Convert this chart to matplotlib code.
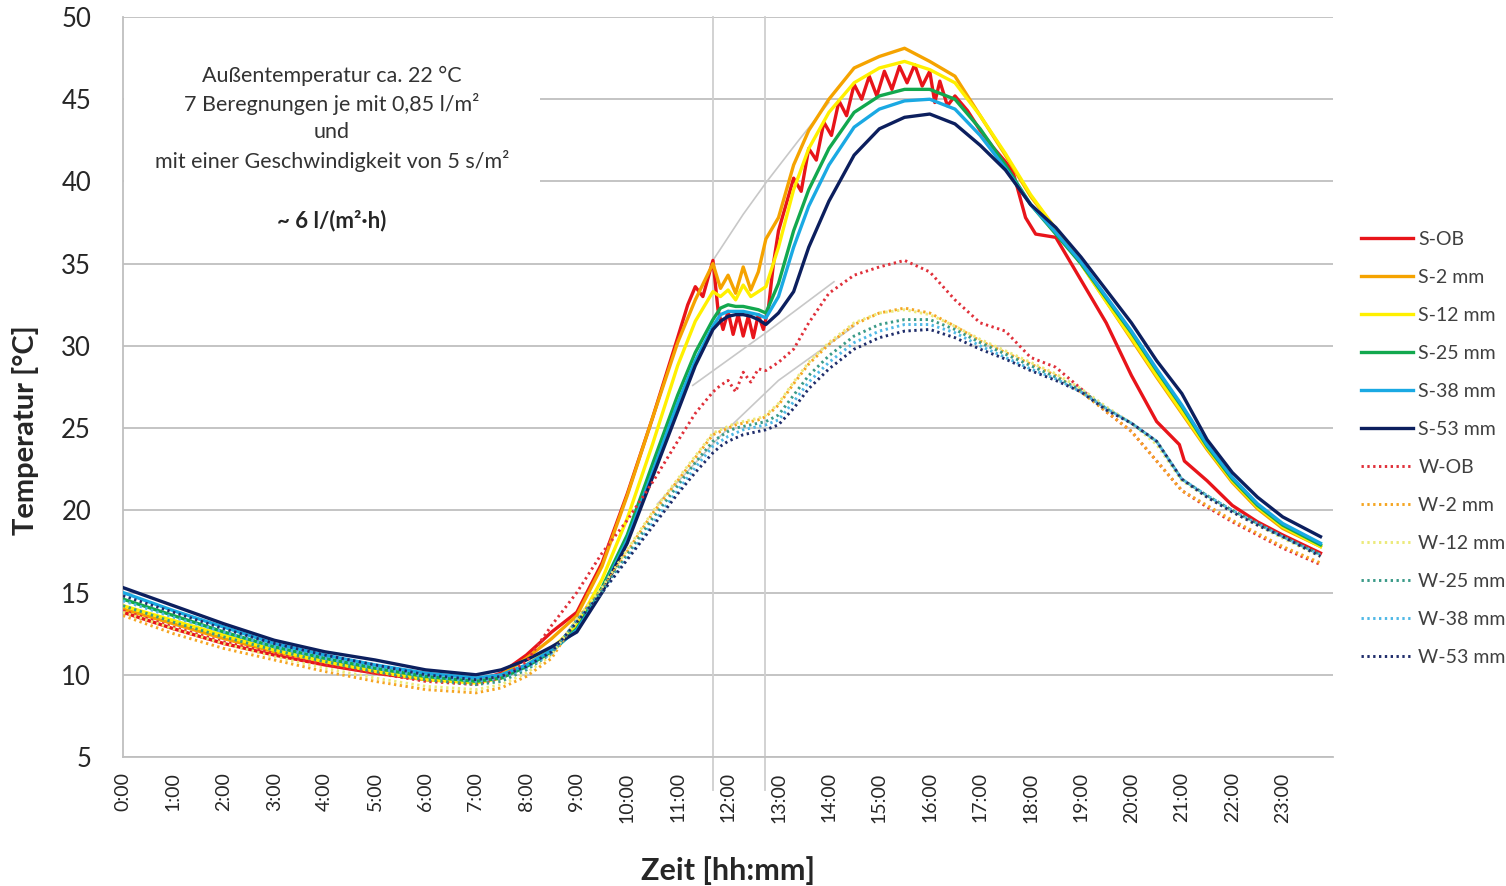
import matplotlib
matplotlib.use("Agg")
import matplotlib.pyplot as plt
from matplotlib.patches import Rectangle

plt.rcParams['font.family'] = ['Lato', 'DejaVu Sans']

# shared time axis (hours) for most series
t = [0, 1, 2, 3, 4, 5, 6, 7, 7.5, 8, 8.5,
     9, 9.5, 10, 10.5, 11, 11.35, 11.7,
     11.85, 12.0, 12.15, 12.3, 12.45, 12.6, 12.75,
     13.0, 13.3, 13.6, 14.0, 14.5, 15.0, 15.5, 16.0, 16.5, 17.0, 17.5, 18.0, 18.5,
     19.0, 19.5, 20.0, 20.5, 21.0, 21.5, 22.0, 22.5, 23.0, 23.75]

s2 = [14.0, 13.1, 12.2, 11.4, 10.8, 10.3, 9.8, 9.6, 10.0, 11.0, 12.2,
      13.6, 16.6, 20.9, 25.6, 30.2, 32.8, 35.0,
      33.5, 34.3, 33.2, 34.8, 33.4, 34.5, 36.5,
      37.8, 41.0, 43.1, 45.0, 46.9, 47.6, 48.1, 47.3, 46.4, 44.0, 41.6, 39.1, 37.1,
      35.0, 32.7, 30.4, 28.1, 25.9, 23.7, 21.7, 20.1, 18.9, 17.8]
s12 = [14.2, 13.3, 12.4, 11.5, 10.8, 10.2, 9.7, 9.5, 9.8, 10.6, 11.6,
       13.0, 15.8, 19.5, 24.0, 28.8, 31.5, 33.3,
       33.0, 33.4, 32.8, 33.7, 33.0, 33.3, 33.6,
       36.0, 39.5, 42.0, 44.2, 46.0, 46.9, 47.3, 46.8, 46.0, 44.0, 41.7, 39.2, 37.1,
       35.0, 32.7, 30.5, 28.2, 26.0, 23.8, 21.8, 20.2, 19.0, 17.8]
s25 = [14.6, 13.6, 12.6, 11.7, 11.0, 10.4, 9.9, 9.6, 9.8, 10.5, 11.4,
       12.8, 15.3, 18.5, 22.8, 27.0, 29.6, 31.6,
       32.3, 32.5, 32.4, 32.4, 32.3, 32.2, 32.0,
       33.8, 37.0, 39.5, 42.0, 44.2, 45.2, 45.6, 45.6, 45.0, 43.2, 41.0, 38.6, 36.8,
       35.0, 32.9, 30.8, 28.5, 26.3, 23.9, 21.9, 20.3, 19.1, 17.9]
s38 = [15.0, 13.9, 12.9, 11.9, 11.2, 10.6, 10.1, 9.8, 10.0, 10.6, 11.5,
       12.7, 15.1, 18.2, 22.3, 26.5, 29.1, 31.2,
       31.9, 32.1, 32.1, 32.1, 32.0, 31.9, 31.7,
       33.0, 36.0, 38.5, 41.0, 43.3, 44.4, 44.9, 45.0, 44.4, 42.8, 40.8, 38.6, 36.9,
       35.1, 33.0, 30.9, 28.6, 26.4, 24.0, 22.0, 20.4, 19.2, 18.0]
s53 = [15.3, 14.2, 13.1, 12.1, 11.4, 10.9, 10.3, 10.0, 10.3, 10.9, 11.7,
       12.6, 15.0, 18.0, 22.0, 26.0, 28.8, 31.0,
       31.5, 31.8, 31.9, 31.9, 31.8, 31.6, 31.3,
       32.0, 33.3, 36.0, 38.8, 41.6, 43.2, 43.9, 44.1, 43.5, 42.2, 40.7, 38.6, 37.2,
       35.4, 33.4, 31.4, 29.1, 27.1, 24.3, 22.3, 20.8, 19.6, 18.4]

wob = [13.9, 12.9, 12.0, 11.3, 10.6, 10.1, 9.6, 9.4, 9.8, 10.8, 13.0,
       15.0, 17.4, 19.4, 21.7, 24.2, 25.9, 27.2,
       27.6, 27.9, 27.2, 28.4, 27.8, 28.6, 28.5,
       29.0, 29.8, 31.4, 33.2, 34.3, 34.8, 35.2, 34.5, 32.8, 31.4, 30.9, 29.3, 28.7,
       27.4, 26.0, 24.8, 23.0, 21.2, 20.2, 19.3, 18.5, 17.7, 16.7]
w2 = [13.6, 12.5, 11.6, 10.9, 10.2, 9.6, 9.1, 8.9, 9.2, 9.9, 11.0,
      13.4, 15.2, 17.5, 19.8, 21.8, 23.2, 24.6,
      24.8, 25.0, 25.2, 25.3, 25.4, 25.5, 25.7,
      26.4, 27.7, 28.9, 30.1, 31.3, 32.0, 32.3, 32.0, 31.2, 30.3, 29.6, 28.9, 28.2,
      27.2, 26.0, 24.8, 23.0, 21.2, 20.3, 19.4, 18.6, 17.8, 16.8]
w12 = [13.8, 12.8, 11.9, 11.1, 10.4, 9.8, 9.3, 9.1, 9.4, 10.1, 11.2,
       13.4, 15.3, 17.6, 19.9, 21.9, 23.3, 24.7,
       24.9, 25.1, 25.3, 25.4, 25.5, 25.6, 25.8,
       26.5, 27.8, 29.0, 30.2, 31.4, 32.0, 32.2, 31.9, 31.2, 30.4, 29.7, 29.0, 28.3,
       27.4, 26.3, 25.3, 24.0, 21.8, 20.8, 19.9, 19.1, 18.3, 17.2]
w25 = [14.2, 13.2, 12.3, 11.5, 10.8, 10.2, 9.7, 9.4, 9.6, 10.3, 11.3,
       13.3, 15.1, 17.3, 19.5, 21.5, 22.9, 24.2,
       24.5, 24.8, 25.0, 25.1, 25.2, 25.3, 25.4,
       25.8, 27.0, 28.2, 29.4, 30.6, 31.3, 31.6, 31.6, 31.0, 30.2, 29.5, 28.8, 28.1,
       27.3, 26.2, 25.3, 24.2, 21.9, 20.9, 20.0, 19.2, 18.4, 17.3]
w38 = [14.5, 13.5, 12.6, 11.7, 11.0, 10.4, 9.9, 9.6, 9.8, 10.4, 11.3,
       13.3, 15.0, 17.1, 19.2, 21.2, 22.6, 23.9,
       24.2, 24.5, 24.7, 24.9, 25.0, 25.1, 25.2,
       25.5, 26.6, 27.8, 29.0, 30.2, 30.9, 31.3, 31.3, 30.8, 30.0, 29.3, 28.6, 28.0,
       27.2, 26.2, 25.3, 24.2, 21.9, 20.9, 20.0, 19.2, 18.4, 17.3]
w53 = [14.8, 13.8, 12.8, 11.9, 11.2, 10.6, 10.0, 9.7, 9.9, 10.5, 11.4,
       13.2, 15.0, 17.0, 19.0, 21.0, 22.3, 23.5,
       23.9, 24.2, 24.4, 24.6, 24.7, 24.8, 24.9,
       25.2, 26.2, 27.4, 28.6, 29.8, 30.5, 30.9, 31.0, 30.5, 29.8, 29.2, 28.5, 27.9,
       27.2, 26.1, 25.3, 24.2, 21.9, 20.8, 19.9, 19.1, 18.4, 17.2]

# S-OB is noisier, so it gets its own finer time axis
t_ob = [0, 1, 2, 3, 4, 5, 6, 7, 7.5, 8, 8.5, 9, 9.5, 10, 10.5, 11,
        11.2, 11.35, 11.5, 11.7,
        11.8, 11.9, 12.0, 12.1, 12.2, 12.3, 12.4, 12.5, 12.6, 12.7, 12.8,
        12.9, 13.0, 13.15, 13.3, 13.45, 13.6, 13.75, 13.9, 14.05, 14.2, 14.35,
        14.5, 14.65, 14.8, 14.95, 15.1, 15.25, 15.4, 15.55, 15.7, 15.85, 16.0,
        16.1, 16.2, 16.35, 16.5, 16.75, 17.0, 17.25, 17.5, 17.65, 17.9, 18.1, 18.5,
        19.0, 19.5, 20.0, 20.5, 20.95, 21.05, 21.5, 22.0, 22.5, 23.0, 23.75]
s_ob = [13.8, 12.8, 11.9, 11.2, 10.6, 10.1, 9.7, 9.6, 10.1, 11.2, 12.6, 13.8, 16.8, 21.0, 25.6, 30.5,
        32.5, 33.6, 33.0, 35.2,
        32.2, 31.0, 32.1, 30.7, 31.9, 30.6, 31.8, 30.5, 31.9, 31.0, 32.3,
        35.0, 37.0, 38.6, 40.2, 39.4, 42.0, 41.3, 43.6, 42.8, 44.9, 44.0,
        45.9, 45.0, 46.4, 45.2, 46.7, 45.6, 47.0, 46.0, 47.1, 45.8, 46.7,
        44.8, 46.1, 44.6, 45.2, 44.3, 43.1, 42.1, 41.2, 40.6, 37.8, 36.8, 36.6,
        34.0, 31.4, 28.2, 25.4, 24.0, 23.0, 21.8, 20.3, 19.3, 18.5, 17.4]

# faint grey guide lines behind the curves
guide1_t = [11.7, 12.3, 12.77, 13.4, 14.0]
guide1_v = [35.2, 38.0, 40.0, 42.5, 44.8]
guide2_t = [11.3, 12.75, 14.1]
guide2_v = [27.6, 30.8, 33.9]
guide3_t = [10.6, 11.84, 13.0, 14.5]
guide3_v = [20.4, 24.5, 27.9, 31.2]

irrigation = [11.7, 12.73]
hour_labels = ['%d:00' % h for h in range(24)]

fig = plt.figure(figsize=(15.06, 8.86), dpi=100)
ax = fig.add_axes([0.0817, 0.1456, 0.8035, 0.8352])

ax.set_xlim(0, 24)
ax.set_ylim(5, 50)
ax.set_yticks(range(5, 51, 5))
ax.set_xticks(range(24))
ax.set_xticklabels(hour_labels, rotation=90)
ax.tick_params(axis='both', length=0, colors='#262626')
ax.tick_params(axis='y', labelsize=18.5, pad=23)
ax.tick_params(axis='x', labelsize=14, pad=11)

ax.grid(axis='y', color='#bfbfbf', lw=1.3)
ax.set_axisbelow(True)
for s in ['top', 'right']:
    ax.spines[s].set_visible(False)
for s in ['left', 'bottom']:
    ax.spines[s].set_color('#bfbfbf')
    ax.spines[s].set_linewidth(1.3)

for x in irrigation:
    ax.axvline(x, ymin=-0.045, ymax=1, color='#cfcfcf', lw=1.3, clip_on=False, zorder=1)

# white box for the annotation (hides the gridlines behind it)
ax.add_patch(Rectangle((0.02, 36.0), 8.25, 13.6, facecolor='white', edgecolor='none', zorder=1.2))

for gt, gv in [(guide1_t, guide1_v), (guide2_t, guide2_v), (guide3_t, guide3_v)]:
    ax.plot(gt, gv, color='#c8c8c8', lw=1.2, zorder=1.5)

solid = [('S-OB', t_ob, s_ob, '#e8141a'),
         ('S-2 mm', t, s2, '#f5a300'),
         ('S-12 mm', t, s12, '#fff000'),
         ('S-25 mm', t, s25, '#12a84e'),
         ('S-38 mm', t, s38, '#1aa9e3'),
         ('S-53 mm', t, s53, '#0c1f5e')]
dotted = [('W-OB', t, wob, '#e0303a'),
          ('W-2 mm', t, w2, '#f5a623'),
          ('W-12 mm', t, w12, '#ecea7a'),
          ('W-25 mm', t, w25, '#3a9a88'),
          ('W-38 mm', t, w38, '#4fb8e6'),
          ('W-53 mm', t, w53, '#1f2d6b')]

for name, xs, ys, c in solid:
    ax.plot(xs, ys, color=c, lw=2.4, label=name, zorder=3)
for name, xs, ys, c in dotted:
    ax.plot(xs, ys, color=c, lw=2.1, ls=(0, (0.8, 1.2)), label=name, zorder=3)

ax.set_xlabel('Zeit [hh:mm]', fontsize=22, fontweight='bold', color='#262626', va='center')
ax.xaxis.set_label_coords(0.5, -0.153)
ax.set_ylabel('Temperatur [°C]', fontsize=21, fontweight='bold', color='#262626', va='center')
ax.yaxis.set_label_coords(-0.081, 0.442)

note = ['Außentemperatur ca. 22 °C', '7 Beregnungen je mit 0,85 l/m²', 'und',
        'mit einer Geschwindigkeit von 5 s/m²']
note_y = [46.4, 44.7, 43.0, 41.25]
for txt, y in zip(note, note_y):
    ax.text(4.14, y, txt, ha='center', va='center', fontsize=15.5, color='#333333', zorder=4)
ax.text(4.14, 37.6, '~ 6 l/(m²·h)', ha='center', va='center', fontsize=16,
        fontweight='bold', color='#262626', zorder=4)

fig.legend(loc='center left', bbox_to_anchor=(0.892, 0.4935), frameon=False,
           fontsize=14, handlelength=2.7, handletextpad=0.25, labelspacing=1.08,
           labelcolor='#404040')

fig.savefig('out.png', dpi=100, facecolor='white')
